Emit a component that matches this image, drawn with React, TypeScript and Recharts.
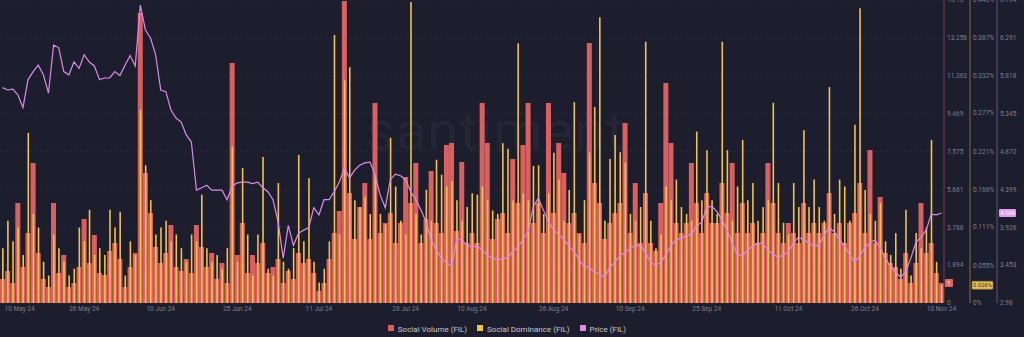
import {
  ComposedChart,
  Bar,
  Line,
  XAxis,
  YAxis,
  CartesianGrid,
  Legend,
  ReferenceLine,
} from "recharts";

// daily points, 10 May 24 .. 10 Nov 24
const MONTHS = ["Jan", "Feb", "Mar", "Apr", "May", "Jun", "Jul", "Aug", "Sep", "Oct", "Nov", "Dec"];
const startDay = Date.UTC(2024, 4, 10);

const socialVolume = [
  1.2, 1.6, 1.0, 5.0, 1.8, 3.5, 7.0, 2.5, 1.2, 0.8,
  5.0, 1.5, 2.4, 0.8, 1.0, 1.8, 4.2, 2.0, 3.4, 1.5,
  1.4, 2.6, 3.0, 2.2, 0.8, 1.8, 2.5, 14.5, 6.5, 4.5,
  2.8, 2.0, 2.5, 3.9, 1.8, 1.6, 2.2, 1.5, 3.9, 2.8,
  1.8, 2.5, 1.2, 2.0, 1.0, 12.0, 2.4, 4.0, 1.5, 2.4,
  2.0, 3.0, 1.5, 1.8, 2.2, 1.0, 1.6, 1.2, 2.5, 2.0,
  2.2, 1.5, 0.6, 1.0, 2.2, 3.5, 4.6, 15.1, 5.5, 3.2,
  4.8, 6.0, 3.2, 10.0, 3.5, 4.0, 4.5, 3.0, 4.0, 6.3,
  5.0, 7.0, 3.0, 4.2, 6.6, 4.0, 3.5, 7.9, 8.0, 3.6,
  7.05, 3.0, 3.5, 3.0, 10.0, 8.0, 3.2, 4.2, 4.5, 3.5,
  7.2, 5.0, 7.9, 10.0, 4.0, 5.0, 3.5, 10.0, 4.5, 8.0,
  6.5, 4.0, 4.5, 3.5, 3.0, 13.0, 6.0, 5.0, 3.2, 4.0,
  4.5, 5.0, 9.0, 3.5, 6.0, 3.0, 5.5, 3.0, 2.6, 5.0,
  11.0, 8.0, 4.0, 3.5, 4.0, 7.0, 5.0, 3.5, 5.5, 4.0,
  4.0, 6.0, 4.5, 7.0, 3.5, 5.0, 3.5, 4.0, 3.0, 3.5,
  7.0, 5.0, 3.5, 3.0, 4.0, 3.5, 3.0, 5.0, 3.5, 4.0,
  3.5, 4.0, 5.5, 3.5, 4.0, 3.0, 4.0, 4.5, 6.0, 3.5,
  7.65, 3.0, 5.3, 2.5, 2.0, 1.8, 1.2, 2.5, 1.0, 2.0,
  5.0, 2.5, 3.0, 1.5, 1.0,
];

const socialDominance = [
  0.08, 0.12, 0.09, 0.11, 0.07, 0.248, 0.13, 0.11, 0.06, 0.04,
  0.1, 0.08, 0.06, 0.04, 0.05, 0.11, 0.09, 0.136, 0.07, 0.08,
  0.07, 0.136, 0.11, 0.133, 0.04, 0.09, 0.07, 0.282, 0.201, 0.15,
  0.1, 0.11, 0.12, 0.09, 0.1, 0.08, 0.06, 0.1, 0.09, 0.158,
  0.08, 0.06, 0.07, 0.05, 0.08, 0.228, 0.06, 0.197, 0.1, 0.04,
  0.1, 0.213, 0.05, 0.04, 0.175, 0.06, 0.05, 0.08, 0.216, 0.09,
  0.182, 0.06, 0.03, 0.05, 0.09, 0.391, 0.1, 0.325, 0.344, 0.15,
  0.14, 0.155, 0.13, 0.187, 0.13, 0.115, 0.241, 0.17, 0.12, 0.1,
  0.439, 0.13, 0.1, 0.165, 0.12, 0.209, 0.187, 0.17, 0.178, 0.15,
  0.12, 0.14, 0.16, 0.158, 0.17, 0.15, 0.135, 0.13, 0.233, 0.225,
  0.15, 0.379, 0.16, 0.15, 0.2, 0.201, 0.13, 0.16, 0.219, 0.18,
  0.12, 0.165, 0.293, 0.1, 0.15, 0.22, 0.286, 0.417, 0.12, 0.21,
  0.245, 0.22, 0.205, 0.13, 0.12, 0.14, 0.381, 0.12, 0.08, 0.1,
  0.17, 0.15, 0.18, 0.14, 0.13, 0.12, 0.25, 0.15, 0.223, 0.15,
  0.13, 0.381, 0.223, 0.12, 0.17, 0.238, 0.15, 0.175, 0.12, 0.14,
  0.15, 0.292, 0.175, 0.117, 0.1, 0.175, 0.14, 0.252, 0.14, 0.18,
  0.14, 0.12, 0.315, 0.13, 0.18, 0.17, 0.12, 0.26, 0.43, 0.165,
  0.13, 0.12, 0.146, 0.09, 0.07, 0.102, 0.05, 0.136, 0.04, 0.102,
  0.08, 0.11, 0.238, 0.06, 0.026,
];

const price = [
  5.67, 5.64, 5.65, 5.58, 5.42, 5.77, 5.87, 5.95, 5.83, 5.6,
  6.2, 6.17, 5.87, 5.83, 5.99, 5.91, 6.08, 5.99, 5.94, 5.77,
  5.79, 5.79, 5.87, 5.82, 5.95, 6.07, 5.94, 6.7, 6.39, 6.29,
  6.08, 5.64, 5.62, 5.39, 5.29, 5.24, 5.08, 4.99, 4.39, 4.42,
  4.45, 4.39, 4.39, 4.39, 4.27, 4.44, 4.48, 4.49, 4.49, 4.47,
  4.49, 4.42, 4.37, 4.27, 3.99, 3.54, 3.95, 3.7, 3.85, 3.89,
  3.92, 4.17, 4.08, 4.27, 4.27, 4.37, 4.49, 4.67, 4.54, 4.64,
  4.7, 4.73, 4.74, 4.58, 4.33, 4.17, 4.52, 4.59, 4.57, 4.52,
  4.37, 4.27, 4.14, 3.99, 3.77, 3.64, 3.54, 3.48, 3.44, 3.77,
  3.77, 3.7, 3.68, 3.69, 3.64, 3.58, 3.54, 3.52, 3.53, 3.55,
  3.62, 3.68, 3.77, 3.87, 4.18, 4.29, 4.14, 3.99, 3.89, 3.84,
  3.77, 3.69, 3.62, 3.52, 3.44, 3.42, 3.37, 3.34, 3.3, 3.42,
  3.49, 3.57, 3.61, 3.66, 3.7, 3.7, 3.61, 3.49, 3.45, 3.49,
  3.58, 3.7, 3.77, 3.79, 3.82, 3.84, 3.94, 3.99, 4.17, 4.19,
  4.12, 4.02, 3.89, 3.72, 3.59, 3.57, 3.64, 3.69, 3.73, 3.72,
  3.64, 3.59, 3.55, 3.58, 3.62, 3.73, 3.8, 3.77, 3.73, 3.69,
  3.7, 3.83, 3.92, 3.87, 3.77, 3.69, 3.58, 3.49, 3.57, 3.67,
  3.73, 3.77, 3.67, 3.54, 3.44, 3.37, 3.3, 3.37, 3.54, 3.74,
  3.8, 3.89, 4.09, 4.08, 4.104,
];

const dateTicks = [
  "10 May 24", "26 May 24", "10 Jun 24", "25 Jun 24", "11 Jul 24", "28 Jul 24", "10 Aug 24",
  "26 Aug 24", "10 Sep 24", "25 Sep 24", "11 Oct 24", "26 Oct 24", "10 Nov 24",
];
const volumeTicks = [0, 1.894, 3.788, 5.681, 7.575, 9.469, 11.363, 13.256, 15.15];
const dominanceTicks = [0, 0.055, 0.111, 0.166, 0.221, 0.277, 0.332, 0.387, 0.442];
const priceTicks = [2.98, 3.453, 3.926, 4.399, 4.872, 5.345, 5.818, 6.291, 6.764];
const legendOrder = ["Social Volume (FIL)", "Social Dominance (FIL)", "Price (FIL)"];

const dateLabel = (i: number) => {
  const d = new Date(startDay + i * 86400000);
  return `${d.getUTCDate()} ${MONTHS[d.getUTCMonth()]} ${String(d.getUTCFullYear()).slice(2)}`;
};

const data = price.map((p, i) => ({
  date: dateLabel(i),
  volume: socialVolume[i],
  dominance: socialDominance[i],
  price: p,
}));

const BG = "#1d1e2d";
const RED = "#d9605e";
const YELLOW = "#f2c14e";
const PINK = "#d98bea";
const TICK = "#7c7e8e";
const FONT = "Roboto, 'Noto Sans', sans-serif";

const DateTick = (props: any) => {
  const { x, y, payload } = props;
  const first = payload.value === dateTicks[0];
  return (
    <text
      x={first ? x + 2 : x}
      y={y}
      dy="0.71em"
      textAnchor={first ? "start" : "middle"}
      fontSize={6.5}
      fill={TICK}
      fontFamily={FONT}
    >
      {payload.value}
    </text>
  );
};

const badge = (text: string, bg: string, fg: string, dx: number, w: number, border?: string) =>
  (props: any) => {
    const { viewBox } = props;
    const x = viewBox.x + viewBox.width + dx;
    const y = viewBox.y;
    return (
      <g>
        <rect x={x} y={y - 4} width={w} height={8} rx={1} fill={bg} stroke={border || "none"} strokeWidth={0.6} />
        <text x={x + w / 2} y={y} dy="0.35em" textAnchor="middle" fontSize={5.8} fill={fg} fontFamily={FONT}>
          {text}
        </text>
      </g>
    );
  };

const legendText = (value: string) => (
  <span style={{ color: "#c6c7d2", fontSize: 8, fontFamily: FONT }}>{value}</span>
);

export default function App() {
  const last = data.length - 1;
  return (
    <div style={{ position: "absolute", left: 0, top: 0, width: 1024, height: 337, background: BG, overflow: "hidden" }}>
      <div
        style={{
          position: "absolute",
          left: 366,
          top: 98,
          fontSize: 56,
          fontFamily: FONT,
          color: "#242535",
          letterSpacing: 1,
        }}
      >
        santiment
      </div>
      <div style={{ position: "absolute", left: 0, top: 0 }}>
        <ComposedChart width={1024} height={337} data={data} margin={{ top: 0, right: 0, bottom: 0, left: 0 }}>
          <CartesianGrid
            xAxisId="a_x"
            yAxisId="a_vol"
            vertical={false}
            stroke="#2a2c3d"
            strokeDasharray="2 3"
          />
          <XAxis
            xAxisId="a_x"
            dataKey="date"
            ticks={dateTicks}
            interval={0}
            axisLine={false}
            tickLine={false}
            tickSize={0}
            tickMargin={3}
            height={14}
            tick={<DateTick />}
          />
          <XAxis xAxisId="b_x" dataKey="date" hide height={0} />
          <YAxis
            yAxisId="a_vol"
            orientation="right"
            width={26}
            domain={[0, 15.15]}
            ticks={volumeTicks}
            interval={0}
            tickLine={false}
            tickSize={0}
            tickMargin={3}
            axisLine={{ stroke: "#7a3f48" }}
            tick={{ fontSize: 6.5, fill: TICK, fontFamily: FONT, textAnchor: "start" }}
            tickFormatter={(v: number) => String(v)}
          />
          <YAxis
            yAxisId="b_dom"
            orientation="right"
            width={27}
            domain={[0, 0.442]}
            ticks={dominanceTicks}
            interval={0}
            tickLine={false}
            tickSize={0}
            tickMargin={3}
            axisLine={{ stroke: "#7d6d45" }}
            tick={{ fontSize: 6.5, fill: TICK, fontFamily: FONT, textAnchor: "start" }}
            tickFormatter={(v: number) => `${v}%`}
          />
          <YAxis
            yAxisId="c_price"
            orientation="right"
            width={27}
            domain={[2.98, 6.764]}
            ticks={priceTicks}
            interval={0}
            tickLine={false}
            tickSize={0}
            tickMargin={3}
            axisLine={{ stroke: "#6c4f86" }}
            tick={{ fontSize: 6.5, fill: TICK, fontFamily: FONT, textAnchor: "start" }}
            tickFormatter={(v: number) => String(v)}
          />
          <Legend
            verticalAlign="bottom"
            height={20}
            iconType="square"
            iconSize={6}
            formatter={legendText}
            itemSorter={(item: any) => legendOrder.indexOf(item.value)}
            wrapperStyle={{ lineHeight: "20px" }}
          />
          <Bar
            name="Social Volume (FIL)"
            xAxisId="a_x"
            yAxisId="a_vol"
            dataKey="volume"
            fill={RED}
            barSize={5}
            isAnimationActive={false}
          />
          <Bar
            name="Social Dominance (FIL)"
            xAxisId="b_x"
            yAxisId="b_dom"
            dataKey="dominance"
            fill={YELLOW}
            barSize={1.6}
            isAnimationActive={false}
          />
          <Line
            name="Price (FIL)"
            xAxisId="a_x"
            yAxisId="c_price"
            dataKey="price"
            type="linear"
            stroke={PINK}
            strokeWidth={1.2}
            dot={false}
            activeDot={false}
            isAnimationActive={false}
          />
          <ReferenceLine
            xAxisId="a_x"
            yAxisId="a_vol"
            y={socialVolume[last]}
            stroke="none"
            label={badge(String(socialVolume[last]), "#e0675f", "#ffffff", 1, 8)}
          />
          <ReferenceLine
            xAxisId="a_x"
            yAxisId="b_dom"
            y={socialDominance[last]}
            stroke="none"
            label={badge(`${socialDominance[last]}%`, "#e9c25c", "#2b2a25", 28, 21, "#8a6f2c")}
          />
          <ReferenceLine
            xAxisId="a_x"
            yAxisId="c_price"
            y={price[last]}
            stroke="none"
            label={badge(String(price[last]), "#e59cf4", "#ffffff", 55, 17)}
          />
        </ComposedChart>
      </div>
    </div>
  );
}
